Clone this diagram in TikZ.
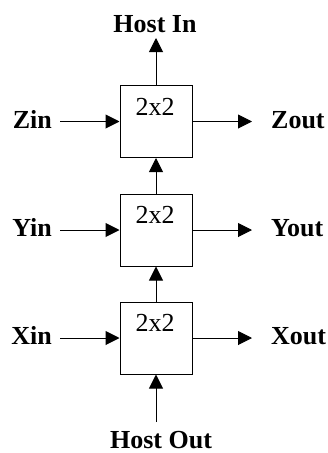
\documentclass[tikz,border=0pt]{standalone}
\usepackage{fontspec}
\setmainfont{Liberation Serif}
\usetikzlibrary{arrows.meta}
\begin{document}
\begin{tikzpicture}[x=1pt,y=-1pt,
  blk/.style={draw,line width=1pt,minimum width=72pt,minimum height=72pt,inner sep=0pt},
  lbl/.style={font=\fontsize{26}{30}\selectfont\bfseries,inner sep=0pt},
  cnt/.style={font=\fontsize{26}{30}\selectfont,inner sep=0pt,anchor=base},
  con/.style={line width=1pt,-{Triangle[length=14pt,width=14pt]}}]
\useasboundingbox (0,0) rectangle (328,453);
\node[blk] (bz) at (156,121.5) {};
\node[blk] (by) at (156,230) {};
\node[blk] (bx) at (156,338) {};
\node[cnt] (tz) at (155,115) {2x2};
\node[cnt] (ty) at (155,223.5) {2x2};
\node[cnt] (tx) at (155,331.5) {2x2};
\node[lbl,anchor=base] (hin) at (155,32) {Host In};
\node[lbl,anchor=base,text depth=0pt] (hout) at (161,448.5) {Host Out};
\node[lbl,anchor=base east] (zin) at (52,128) {Zin};
\node[lbl,anchor=base east] (yin) at (52,236.5) {Yin};
\node[lbl,anchor=base east] (xin) at (52,344.5) {Xin};
\node[lbl,anchor=base west] (zout) at (271,128) {Zout};
\node[lbl,anchor=base west] (yout) at (271,236.5) {Yout};
\node[lbl,anchor=base west] (xout) at (271,344.5) {Xout};
\coordinate (hinp) at (156,38);
\coordinate (houtp) at (156,422);
\coordinate (zinp) at (60,121.5);
\coordinate (yinp) at (60,230);
\coordinate (xinp) at (60,338);
\coordinate (zoutp) at (252,121.5);
\coordinate (youtp) at (252,230);
\coordinate (xoutp) at (252,338);
\draw[con] (bz.north) -- (hinp);
\draw[con] (by.north) -- (bz.south);
\draw[con] (bx.north) -- (by.south);
\draw[con] (houtp) -- (bx.south);
\draw[con] (zinp) -- (bz.west);
\draw[con] (yinp) -- (by.west);
\draw[con] (xinp) -- (bx.west);
\draw[con] (bz.east) -- (zoutp);
\draw[con] (by.east) -- (youtp);
\draw[con] (bx.east) -- (xoutp);
\end{tikzpicture}
\end{document}
